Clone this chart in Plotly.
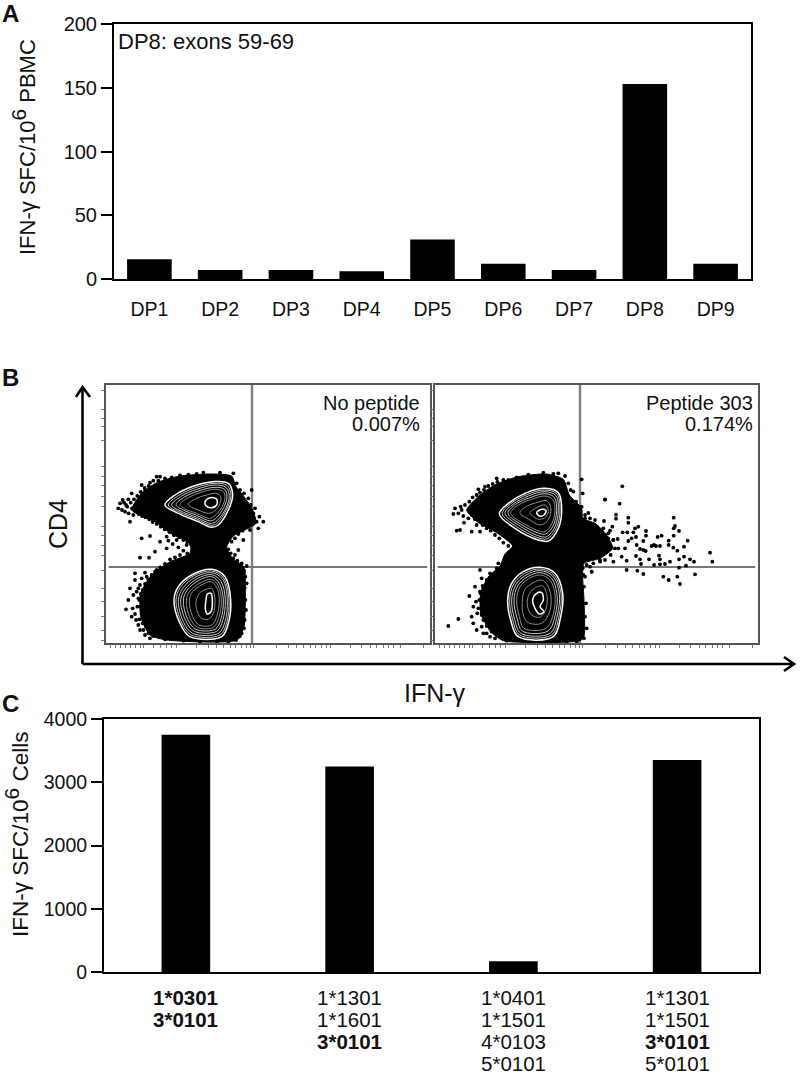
import plotly.graph_objects as go

W, H = 800, 1073
FONT = "Liberation Sans"

# Panel A
dp_names = ["DP1", "DP2", "DP3", "DP4", "DP5", "DP6", "DP7", "DP8", "DP9"]
dp_values = [15.5, 7, 7, 6, 31, 12, 7, 153, 12]
a_ticks = [0, 50, 100, 150, 200]

# Panel C
hla_groups = ["g1", "g2", "g3", "g4"]
hla_values = [3750, 3250, 170, 3350]
hla_lines = [
    ["<b>1*0301</b>", "<b>3*0101</b>"],
    ["1*1301", "1*1601", "<b>3*0101</b>"],
    ["1*0401", "1*1501", "4*0103", "5*0101"],
    ["1*1301", "1*1501", "<b>3*0101</b>", "5*0101"],
]
c_ticks = [0, 1000, 2000, 3000, 4000]

# Panel B: flow plots, values read in instrument-like channel units (y grows downward)
yticks_flow = [-210, -152, -125, -100, -60, 20, 50, 75, 110, 140, 200, 225, 255, 285, 330, 385, 425, 470, 510, 540]
xticks_flow = [30, 45, 60, 75, 90, 105, 120, 130, 160, 180, 200, 215, 230, 290, 325, 350, 370, 390, 405, 425, 440, 450, 460,
               530, 565, 590, 610, 630, 645, 665, 680, 690, 750, 785, 810, 830, 850, 865, 880, 900, 970]

blob_1 = [(95,150),(125,100),(170,68),(240,48),(330,42),(395,48),(408,80),(432,110),(458,150),(468,190),(430,212),(400,228),
          (380,262),(400,298),(432,320),(436,400),(432,500),(412,540),(200,540),(150,525),(122,470),(122,400),(155,345),
          (210,305),(270,280),(270,250),(215,222),(165,185)]
rings_1_upper = [
    [(195,135),(225,105),(275,80),(340,65),(385,70),(398,105),(385,150),(355,195),(335,202),(295,185),(235,160)],
    [(205,135),(235,107),(283,84),(342,70),(381,76),(393,107),(378,152),(350,191),(333,196),(292,178),(238,156)],
    [(215,135),(245,108),(290,88),(345,75),(378,82),(388,110),(372,155),(345,187),(330,190),(290,172),(240,152)],
    [(228,134),(255,110),(295,93),(345,82),(374,88),(381,112),(366,152),(341,180),(327,182),(290,166),(248,149)],
    [(240,133),(265,113),(300,98),(345,88),(370,95),(375,115),(360,150),(338,172),(325,175),(290,160),(255,147)],
    [(265,132),(290,115),(320,105),(350,100),(362,110),(360,130),(345,152),(325,160),(295,150),(275,142)],
    [(315,125),(330,113),(350,118),(350,135),(335,143),(318,137)],
]
rings_1_lower = [
    [(222,420),(235,380),(275,345),(335,328),(375,350),(392,420),(385,490),(365,530),(270,530),(240,490)],
    [(228,420),(241,382),(280,348),(335,333),(371,354),(387,420),(380,488),(360,525),(274,525),(245,488)],
    [(235,420),(248,385),(285,352),(335,338),(368,358),(382,420),(375,485),(355,520),(278,520),(250,485)],
    [(242,420),(255,388),(290,357),(335,344),(363,364),(376,420),(368,482),(350,514),(283,514),(257,482)],
    [(250,420),(262,390),(295,362),(335,350),(358,370),(370,420),(362,480),(345,508),(288,508),(263,478)],
    [(259,420),(270,393),(300,369),(334,358),(354,376),(364,420),(356,475),(340,502),(293,502),(270,474)],
    [(268,420),(278,395),(305,375),(333,365),(350,382),(358,420),(350,470),(335,495),(298,495),(278,470)],
    [(288,425),(298,400),(318,388),(335,385),(342,400),(345,425),(340,460),(325,478),(305,475),(292,455)],
    [(318,420),(322,402),(333,400),(337,420),(333,455),(322,462),(316,445)],
]
dots_1 = [(60,130),(55,145),(68,120),(85,118),(95,100),(75,155),(90,185),(100,165),(125,75),(150,68),(180,50),(135,90),
          (125,235),(150,228),(120,293),(147,293),(165,275),(180,245),(200,230),(200,265),(230,240),(260,255),(190,325),
          (165,335),(135,338),(105,340),(105,360),(120,375),(90,385),(115,415),(85,420),(78,448),(105,462),(95,470),
          (115,495),(130,510),(145,520),(490,185),(475,205),(465,145),(455,90),(445,115),(478,170),(450,210),(430,240),
          (415,270),(400,295),(425,310),(440,318),(440,370),(438,450),(425,520),(170,50),(290,42),(240,46),(110,130),
          (120,150),(78,135),
          (72,128),(82,140),(92,128),(102,118),(112,108),(122,96),(134,84),(146,78),(160,62),(175,62),(195,55),(215,52),
          (66,150),(86,160),(96,145),(106,140),(116,162),(126,168),(136,172),(148,178),(158,186),(170,192),(182,200),
          (194,208),(208,216),(222,226),(238,232),(250,240),(262,246),(272,252),(205,242),(218,252),(235,262),(250,272),
          (262,280),(240,285),(225,292),(210,298),(195,312),(180,322),(170,330),(155,345),(145,358),(135,372),(128,390),
          (122,402),(118,420),(122,440),(126,458),(118,478),(128,490),(138,500),(150,510),(160,528),(178,532),(195,538),
          (110,395),(100,405),(112,440),(98,445),(108,480),(120,510),(135,525),(150,535),(140,350),(125,355),(115,385),
          (410,70),(420,90),(432,100),(440,130),(452,135),(460,160),(470,185),(458,178),(445,172),(440,200),(428,212),
          (415,222),(405,235),(395,245),(385,268),(392,280),(405,285),(412,302),(432,332),(436,350),(434,385),(436,420),
          (434,480),(432,505),(420,528),(408,540),(385,545),(350,545),(300,545),(250,542),(400,40),(360,38),(310,38),(265,44)]

blob_2 = [(80,150),(120,105),(170,72),(235,50),(320,42),(370,58),(388,105),(425,145),(428,175),(465,190),(500,225),
          (518,265),(480,295),(432,310),(428,350),(432,420),(432,530),(420,542),(190,542),(150,512),(122,460),(122,400),
          (145,350),(180,318),(195,282),(218,258),(170,218),(115,188)]
rings_2_upper = [
    [(178,162),(205,130),(255,100),(315,85),(355,98),(365,150),(355,205),(325,243),(295,240),(225,205)],
    [(187,161),(212,131),(260,104),(315,90),(351,102),(360,150),(350,202),(322,236),(296,234),(230,200)],
    [(195,160),(220,132),(265,108),(315,95),(348,107),(355,150),(345,200),(320,230),(297,228),(235,195)],
    [(204,160),(227,133),(270,113),(315,101),(343,112),(350,151),(340,196),(317,222),(297,220),(240,191)],
    [(212,160),(235,135),(275,118),(315,108),(338,118),(345,152),(335,192),(315,215),(297,213),(245,187)],
    [(240,158),(262,138),(290,128),(318,122),(330,135),(332,160),(320,185),(300,195),(270,180)],
    [(270,158),(290,143),(315,135),(325,150),(318,170),(298,178),(280,170)],
    [(290,158),(305,148),(318,152),(312,165),(298,168)],
]
rings_2_lower = [
    [(203,420),(215,370),(250,335),(300,322),(345,340),(368,400),(362,470),(340,530),(235,530),(212,480)],
    [(209,420),(221,372),(254,340),(300,327),(341,344),(363,400),(357,468),(335,525),(239,525),(218,479)],
    [(215,420),(227,375),(258,345),(300,332),(338,348),(358,400),(352,465),(330,520),(243,520),(224,478)],
    [(222,420),(233,378),(263,350),(301,338),(334,354),(351,402),(346,464),(324,513),(247,513),(231,474)],
    [(230,420),(240,380),(268,355),(302,345),(330,360),(345,405),(340,462),(318,505),(252,505),(238,470)],
    [(247,420),(255,388),(280,368),(305,360),(322,375),(333,410),(328,458),(305,490),(265,488),(250,465)],
    [(262,420),(272,395),(292,380),(308,378),(318,395),(322,420),(315,455),(298,472),(275,465),(264,445)],
    [(278,420),(290,400),(305,398),(310,420),(300,440),(312,455),(298,462),(285,445)],
]
dots_2 = [(25,498),(55,477),(45,145),(40,162),(65,150),(72,188),(50,212),(60,210),(95,215),(110,195),(120,215),(170,55),
          (230,52),(115,88),(135,80),(88,408),(105,380),(120,330),(95,470),(100,490),(110,510),(130,520),(150,530),
          (495,118),(425,58),(428,100),(400,95),(390,340),(455,335),(100,440),(125,355),(175,310),(250,300),(380,325),
          (440,295),
          (547,79),(495,119),(539,131),(445,159),(528,164),(528,176),(565,173),(565,188),(701,173),(705,198),(701,205),
          (717,213),(595,200),(585,205),(580,217),(548,217),(562,217),(618,213),(618,227),(701,227),(665,227),(653,231),
          (610,243),(588,231),(575,235),(565,243),(533,237),(520,240),(517,200),(510,212),(492,183),(743,242),(686,242),
          (686,255),(732,260),(700,263),(712,272),(600,267),(610,270),(617,273),(635,258),(648,258),(660,258),(642,255),
          (590,255),(555,265),(535,265),(545,290),(588,288),(560,302),(600,298),(627,298),(603,312),(642,315),(660,313),
          (675,312),(657,287),(660,298),(690,305),(717,298),(732,290),(750,298),(762,305),(810,278),(817,305),(717,323),
          (738,317),(765,343),(560,330),(592,332),(610,342),(670,350),(686,360),(712,350),(720,372),(520,305),
          (470,265),(480,255),(450,280),(460,295),(495,270),(505,235),(490,240),(465,230),(480,215),(450,205),(465,180),
          (435,175),(450,320),(455,335),(430,345),(480,300),
          (62,140),(75,135),(88,125),(98,112),(110,105),(120,98),(132,90),(145,78),(158,72),(172,66),(190,60),(205,60),
          (55,160),(70,168),(85,175),(95,165),(105,178),(118,172),(128,195),(140,205),(152,212),(165,225),(178,235),
          (190,248),(205,258),(215,272),(198,295),(188,310),(170,325),(150,340),(140,360),(128,378),(122,400),(118,420),
          (115,445),(125,465),(130,480),(140,498),(155,515),(170,525),(185,532),(200,542),(120,395),(108,425),(112,460),
          (125,500),(140,520),(165,535),(135,430),(130,385),
          (375,48),(385,70),(392,90),(408,125),(425,140),(435,165),(450,175),(470,200),(490,205),(505,220),(520,240),
          (525,265),(512,285),(495,300),(480,305),(460,310),(440,315),(428,325),(435,350),(432,380),(438,430),(435,470),
          (440,505),(432,535),(410,545),(380,545),(330,545),(270,545),(355,40),(310,38),(265,44),(340,42)]

panels = [
    ("x1", "y1", [18, 990], 456, blob_1, rings_1_upper, rings_1_lower, dots_1),
    ("x2", "y2", [-15, 954], 420, blob_2, rings_2_upper, rings_2_lower, dots_2),
]
RANGE_Y = [549, -225]
QUAD_Y = 321


def px_x(a, b):
    return [a / W, b / W]


def px_y(top, bottom):
    return [1 - bottom / H, 1 - top / H]


fig = go.Figure()

fig.add_trace(go.Bar(x=dp_names, y=dp_values, width=0.63, marker=dict(color="black", line_width=0), xaxis="x3", yaxis="y3"))
fig.add_trace(go.Bar(x=hla_groups, y=hla_values, width=0.297, marker=dict(color="black", line_width=0), xaxis="x4", yaxis="y4"))


def ring_trace(ring, n, idx, total):
    if idx == 0 or idx == total - 1:
        color, width = "#ffffff", 1.5
    elif idx < total / 2:
        color, width = "#c8c8c8", 1.0
    else:
        color, width = "#8c8c8c", 1.0
    rx = [p[0] for p in ring] + [ring[0][0]]
    ry = [p[1] for p in ring] + [ring[0][1]]
    return go.Scatter(x=rx, y=ry, mode="lines", line=dict(color=color, width=width, shape="spline", smoothing=1.0),
                      xaxis=f"x{n}", yaxis=f"y{n}")


for xa, ya, xr, qx, blob, upper, lower, dots in panels:
    n = xa[1:]
    fig.add_trace(go.Scatter(x=[qx, qx], y=RANGE_Y, mode="lines", line=dict(color="#808080", width=2.4), xaxis=f"x{n}", yaxis=f"y{n}"))
    fig.add_trace(go.Scatter(x=[xr[0] + 8, xr[1] - 8], y=[QUAD_Y, QUAD_Y], mode="lines", line=dict(color="#777777", width=1.8), xaxis=f"x{n}", yaxis=f"y{n}"))
    bx = [p[0] for p in blob] + [blob[0][0]]
    by = [p[1] for p in blob] + [blob[0][1]]
    fig.add_trace(go.Scatter(x=bx, y=by, mode="lines", fill="toself", fillcolor="black",
                             line=dict(color="black", width=1, shape="spline", smoothing=0.6), xaxis=f"x{n}", yaxis=f"y{n}"))
    fig.add_trace(go.Scatter(x=[p[0] for p in dots], y=[p[1] for p in dots], mode="markers",
                             marker=dict(color="black", size=3.8, symbol="circle"), xaxis=f"x{n}", yaxis=f"y{n}"))
    for group in (upper, lower):
        for i, ring in enumerate(group):
            fig.add_trace(ring_trace(ring, n, i, len(group)))

frame_a = dict(showline=True, linecolor="black", linewidth=2, mirror=True, showgrid=False, zeroline=False)

layout = dict(
    width=W, height=H, autosize=False, margin=dict(l=0, r=0, t=0, b=0, autoexpand=False),
    paper_bgcolor="white", plot_bgcolor="white", showlegend=False, barmode="overlay",
    font=dict(family=FONT, color="#111111"),
    xaxis3=dict(frame_a, domain=px_x(114, 751), anchor="y3", type="category", range=[-0.5, 8.5],
                ticks="outside", ticklen=12, tickcolor="rgba(0,0,0,0)", tickfont=dict(family=FONT, size=19.5, color="#111111")),
    yaxis3=dict(frame_a, domain=px_y(24, 279), anchor="x3", range=[0, 200], tickvals=a_ticks, ticks="outside", ticklen=11,
                tickwidth=2, tickcolor="black", tickfont=dict(family=FONT, size=20, color="#111111")),
    xaxis4=dict(frame_a, domain=px_x(104, 759), anchor="y4", type="category", range=[-0.5, 3.5], showticklabels=False, ticks=""),
    yaxis4=dict(frame_a, domain=px_y(719, 972), anchor="x4", range=[0, 4000], tickvals=c_ticks, ticks="outside", ticklen=11,
                tickwidth=2, tickcolor="black", tickfont=dict(family=FONT, size=19.5, color="#111111")),
)
for (xa, ya, xr, *_), dom in zip(panels, [(106, 430), (435, 758)]):
    n = xa[1:]
    key_x = "xaxis" if n == "1" else f"xaxis{n}"
    key_y = "yaxis" if n == "1" else f"yaxis{n}"
    shift = 0 if n == "1" else -33
    layout[key_x] = dict(domain=px_x(*dom), anchor=f"y{n}", range=xr, showline=True, linecolor="#555555", linewidth=1.6, mirror=True,
                         showgrid=False, zeroline=False, showticklabels=False, ticks="outside", ticklen=3, tickwidth=1,
                         tickcolor="#777777", tickvals=[t + shift for t in xticks_flow])
    layout[key_y] = dict(domain=px_y(385, 643), anchor=f"x{n}", range=RANGE_Y, showline=True, linecolor="#555555", linewidth=1.6, mirror=True,
                         showgrid=False, zeroline=False, showticklabels=False, ticks="outside", ticklen=3, tickwidth=1,
                         tickcolor="#777777", tickvals=yticks_flow)
fig.update_layout(**layout)

anns = []


def text(x, y, s, size, anchor="center", angle=0, xref="paper", yref="paper", yshift=0):
    anns.append(dict(x=x, y=y, xref=xref, yref=yref, text=s, showarrow=False, xanchor=anchor, yanchor="middle",
                     textangle=angle, yshift=yshift, font=dict(family=FONT, size=size, color="#111111")))


def P(x, y):
    return x / W, 1 - y / H


text(*P(0, 14), "<b>A</b>", 24, anchor="left")
text(*P(0, 378), "<b>B</b>", 24, anchor="left")
text(*P(0, 703), "<b>C</b>", 24, anchor="left")
text(*P(116, 41), "DP8: exons 59-69", 22, anchor="left")
text(*P(24, 147), 'IFN-γ SFC/10<sup><span style="font-size:21px">6</span></sup> PBMC', 22, angle=-90)
text(*P(16, 835), 'IFN-γ SFC/10<sup><span style="font-size:21px">6</span></sup> Cells', 22.5, angle=-90)
text(*P(58, 524), "CD4", 25, angle=-90)
text(*P(402, 693), "IFN-γ", 25, anchor="left")
text(*P(422, 403), "No peptide", 20, anchor="right")
text(*P(422, 424), "0.007%", 20, anchor="right")
text(*P(755, 403), "Peptide 303", 20, anchor="right")
text(*P(755, 424), "0.174%", 20, anchor="right")
for g, lines in zip(hla_groups, hla_lines):
    for i, line in enumerate(lines):
        text(g, 0, line, 20.5, xref="x4", yref="y4", yshift=-(25 + 22 * i))

fig.update_layout(annotations=anns)

# axis arrows of panel B (open chevron heads), in paper fractions
arrow_style = dict(type="path", xref="paper", yref="paper", line=dict(color="black", width=2.6))


def path(points):
    return "M " + " L ".join(f"{x/W:.5f},{1-y/H:.5f}" for x, y in points)


fig.add_shape(path=path([(82.5, 664), (82.5, 387)]), **arrow_style)
fig.add_shape(path=path([(76, 397), (82.5, 387), (90, 397)]), **arrow_style)
fig.add_shape(path=path([(82.5, 664), (794, 664)]), **arrow_style)
fig.add_shape(path=path([(784, 657), (794, 664), (784, 671)]), **arrow_style)

fig.write_html("out.html", config=dict(displayModeBar=False),
               post_script="document.body.style.margin='0';document.body.style.overflow='hidden';")
